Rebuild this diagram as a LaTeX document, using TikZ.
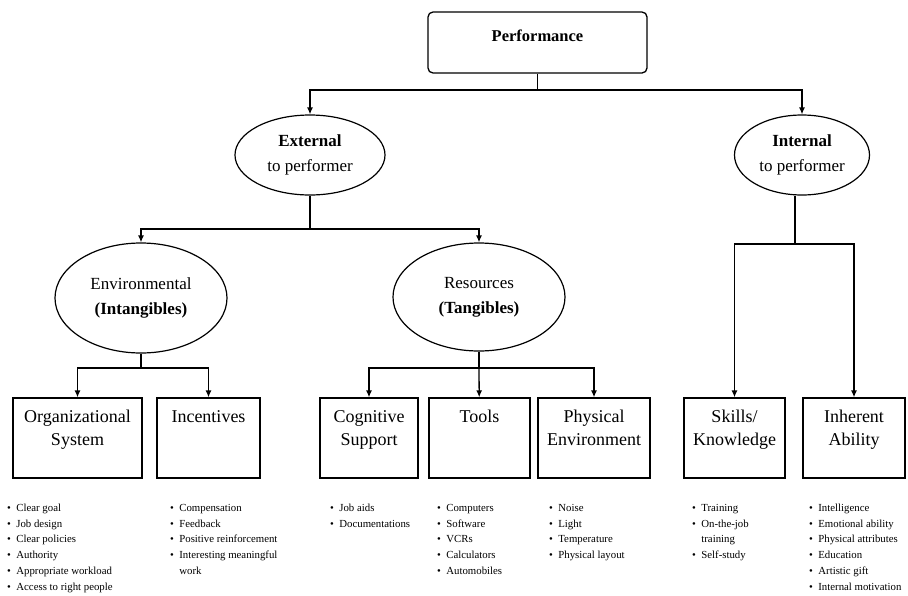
\documentclass[tikz,border=0pt]{standalone}
\usepackage{fontspec}
\setmainfont{Liberation Serif}
\usetikzlibrary{arrows.meta,shapes.geometric}

\tikzset{
  conn/.style={line width=1.3pt},
  arr/.style={conn,-{Latex[length=7pt,width=6pt]}},
  topbox/.style={draw,line width=1.3pt,rounded corners=5pt,minimum width=219pt,minimum height=61pt,text depth=14pt,font=\fontsize{16.5}{20}\selectfont\bfseries},
  oval/.style={draw,ellipse,line width=1.2pt,align=center,inner sep=0pt,font=\fontsize{17}{25}\selectfont},
  boxnode/.style={draw,line width=1.3pt,align=center,minimum height=80pt,inner sep=0pt,text depth=20pt,font=\fontsize{18}{23}\selectfont},
  itemlist/.style={anchor=north west,inner sep=0pt,font=\fontsize{10.8}{15.8}\selectfont}
}
\newcommand{\bl}{\textbullet}

\begin{document}
\begin{tikzpicture}[x=1pt,y=-1pt]
  \useasboundingbox (0,0) rectangle (908,595);

  % top of the tree
  \node[topbox] (perf) at (537.5,42.5) {Performance};

  % external / internal
  \node[oval,minimum width=150pt,minimum height=80pt] (ext) at (310,155) {\textbf{External}\\to performer};
  \node[oval,minimum width=135pt,minimum height=80pt] (int) at (802,155) {\textbf{Internal}\\to performer};

  % second level ovals
  \node[oval,minimum width=172pt,minimum height=110pt] (env) at (141,298) {Environmental\\\textbf{(Intangibles)}};
  \node[oval,minimum width=172pt,minimum height=108pt] (res) at (479,297) {Resources\\\textbf{(Tangibles)}};

  % boxes
  \node[boxnode,minimum width=129pt] (org) at (77.5,438) {Organizational\\System};
  \node[boxnode,minimum width=103pt] (inc) at (208.5,438) {Incentives\\\mbox{}};
  \node[boxnode,minimum width=98pt] (cog) at (369,438) {Cognitive\\Support};
  \node[boxnode,minimum width=101pt] (tools) at (479.5,438) {Tools\\\mbox{}};
  \node[boxnode,minimum width=112pt] (phys) at (594,438) {Physical\\Environment};
  \node[boxnode,minimum width=101pt] (skills) at (734.5,438) {Skills/\\Knowledge};
  \node[boxnode,minimum width=102pt] (inh) at (854,438) {Inherent\\Ability};

  % junctions
  \coordinate (j1) at (537.5,90);
  \coordinate (j2) at (310,229);
  \coordinate (j3) at (795,244);
  \coordinate (j4) at (141,368);
  \coordinate (j5) at (479,368);

  % connectors
  \draw[conn] (perf) -- (j1);
  \draw[arr] (j1) -| (ext);
  \draw[arr] (j1) -| (int);
  \draw[conn] (ext) -- (j2);
  \draw[arr] (j2) -| (env);
  \draw[arr] (j2) -| (res);
  \draw[conn] (int.south -| j3) -- (j3);
  \draw[arr] (j3) -| (skills);
  \draw[arr] (j3) -| (inh);
  \draw[conn] (env) -- (j4);
  \draw[arr] (j4) -| (org);
  \draw[arr] (j4) -| (inc);
  \draw[conn] (res) -- (j5);
  \draw[arr] (j5) -| (cog);
  \draw[arr] (j5) -- (tools);
  \draw[arr] (j5) -| (phys);

  % bullet lists
  \node[itemlist] (lorg) at (7,500) {\begin{tabular}{@{}l@{\ \ }l@{}}
    \bl & Clear goal\\ \bl & Job design\\ \bl & Clear policies\\
    \bl & Authority\\ \bl & Appropriate workload\\ \bl & Access to right people
  \end{tabular}};
  \node[itemlist] (linc) at (170,500) {\begin{tabular}{@{}l@{\ \ }l@{}}
    \bl & Compensation\\ \bl & Feedback\\ \bl & Positive reinforcement\\
    \bl & Interesting meaningful\\ & work
  \end{tabular}};
  \node[itemlist] (lcog) at (330,500) {\begin{tabular}{@{}l@{\ \ }l@{}}
    \bl & Job aids\\ \bl & Documentations
  \end{tabular}};
  \node[itemlist] (ltools) at (437,500) {\begin{tabular}{@{}l@{\ \ }l@{}}
    \bl & Computers\\ \bl & Software\\ \bl & VCRs\\ \bl & Calculators\\ \bl & Automobiles
  \end{tabular}};
  \node[itemlist] (lphys) at (549,500) {\begin{tabular}{@{}l@{\ \ }l@{}}
    \bl & Noise\\ \bl & Light\\ \bl & Temperature\\ \bl & Physical layout
  \end{tabular}};
  \node[itemlist] (lskills) at (692,500) {\begin{tabular}{@{}l@{\ \ }l@{}}
    \bl & Training\\ \bl & On-the-job\\ & training\\ \bl & Self-study
  \end{tabular}};
  \node[itemlist] (linh) at (809,500) {\begin{tabular}{@{}l@{\ \ }l@{}}
    \bl & Intelligence\\ \bl & Emotional ability\\ \bl & Physical attributes\\
    \bl & Education\\ \bl & Artistic gift\\ \bl & Internal motivation
  \end{tabular}};
\end{tikzpicture}
\end{document}
